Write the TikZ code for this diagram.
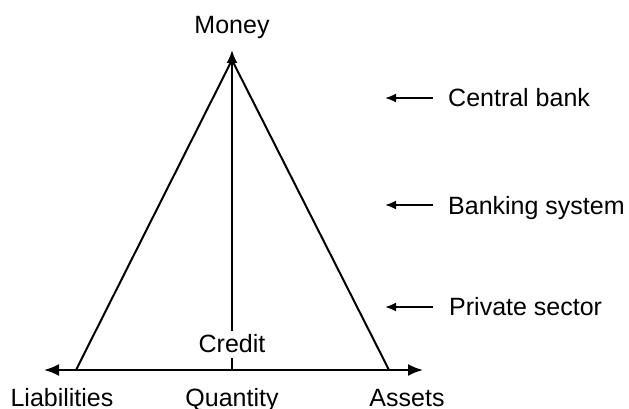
\documentclass[tikz,border=0pt]{standalone}
\usepackage{fontspec}
\setmainfont{Liberation Sans}
\usetikzlibrary{calc,arrows.meta,positioning}

\begin{document}
\begin{tikzpicture}[x=1pt,y=-1pt,font=\fontsize{25}{28}\selectfont]

\tikzset{lbl/.style={inner sep=0pt,anchor=base},
sidelbl/.style={inner sep=0pt,anchor=base west},
axisline/.style={line width=2pt,-{Latex[length=15pt,width=12pt]}},
sidearrow/.style={line width=1.8pt,-{Latex[length=11pt,width=9pt]}}}

\useasboundingbox (0,0) rectangle (629,409);

% Axis
\coordinate (qAx) at (232,370);
\coordinate (leftEnd) at (44,370);
\coordinate (rightEnd) at (423,370);
\draw[axisline] (qAx) -- (leftEnd);
\draw[axisline] (qAx) -- (rightEnd);

% Triangle
\coordinate (apex) at (232,60);
\coordinate (leftFoot) at (76,370);
\coordinate (rightFoot) at (389,370);
\draw[line width=2pt,line join=miter] (leftFoot) -- (apex) -- (rightFoot);

% Labels
\node[lbl] (money) at (232,34) {Money};
\node[lbl] (credit) at (232,352) {Credit};
\node[lbl] (liab) at (62,406) {Liabilities};
\node[lbl] (quant) at (232,406) {Quantity};
\node[lbl] (assets) at (407,406) {Assets};

% Vertical line
\coordinate (top) at (232,50);
\draw[line width=2pt,-{Latex[length=13pt,width=11pt]}] ($(credit.north)+(0,-3)$) -- (top);
\draw[line width=2pt] ($(credit.base)+(0,6)$) -- (qAx);

% Side labels
\node[sidelbl] (cb) at (448,107) {Central bank};
\node[sidelbl] (bs) at (448,214) {Banking system};
\node[sidelbl] (ps) at (449,315) {Private sector};
\foreach \n/\y in {cb/98,bs/205,ps/307} {
  \coordinate (\n tail) at (433,\y);
  \coordinate (\n tip) at (385,\y);
  \draw[sidearrow] (\n tail) -- (\n tip);
}

\end{tikzpicture}
\end{document}
